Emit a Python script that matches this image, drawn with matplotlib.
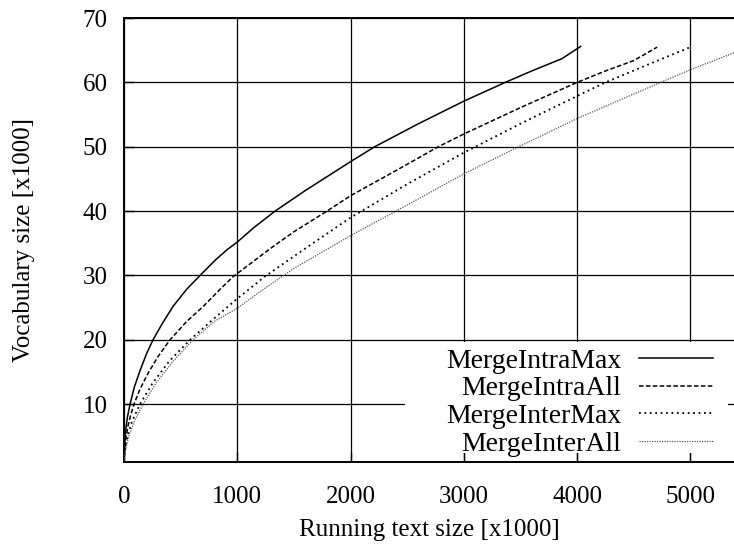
import matplotlib
matplotlib.use("Agg")
import matplotlib.pyplot as plt
from matplotlib.patches import Rectangle

# vocabulary growth curves (x1000)
intra_max_x = [0, 5, 15, 30, 53, 90, 141, 200, 256, 340, 433, 550, 671, 800, 909, 1000, 1150, 1333,
               1600, 2000, 2212, 2600, 3000, 3363, 3600, 3865, 4030]
intra_max_y = [1.2, 3.5, 6.0, 8.0, 10.0, 12.6, 15.2, 17.9, 20.0, 22.6, 25.2, 27.8, 30.0, 32.3, 34.0, 35.2, 37.5, 40.0,
               43.2, 47.7, 50.0, 53.6, 57.1, 60.0, 61.8, 63.7, 65.6]

intra_all_x = [0, 5, 15, 35, 60, 88, 140, 212, 300, 406, 550, 700, 850, 962, 1300, 1500, 1791,
               2000, 2400, 2773, 3000, 3500, 3997, 4250, 4499, 4706]
intra_all_y = [1.2, 2.7, 4.5, 6.6, 8.4, 10.0, 12.3, 14.8, 17.4, 20.0, 22.8, 25.2, 27.9, 29.8, 34.3, 36.8, 40.0,
               42.4, 46.3, 50.0, 52.0, 56.1, 60.0, 61.8, 63.4, 65.5]

inter_max_x = [0, 5, 15, 35, 70, 141, 250, 400, 583, 800, 1000, 1240, 1600, 2000, 2500, 3000, 3500,
               4000, 4248, 4600, 4986]
inter_max_y = [1.2, 2.3, 3.6, 5.3, 7.3, 10.0, 13.2, 16.7, 20.0, 23.4, 26.4, 29.8, 34.2, 39.0, 44.2, 49.1, 53.6,
               57.9, 60.0, 62.6, 65.4]

inter_all_x = [0, 5, 15, 40, 90, 168, 280, 430, 609, 800, 1000, 1218, 1500, 2000, 2390, 3000, 3482,
               4000, 4735, 5000, 5404]
inter_all_y = [1.2, 1.9, 3.0, 4.9, 7.3, 10.0, 13.2, 16.6, 20.0, 22.9, 24.9, 27.7, 31.1, 36.2, 39.9, 45.8, 50.0,
               54.4, 60.0, 62.0, 64.75]

x_ticks = [0, 1000, 2000, 3000, 4000, 5000]
y_ticks = [10, 20, 30, 40, 50, 60, 70]

plt.rcParams['font.family'] = ['Liberation Serif', 'DejaVu Serif']
plt.rcParams['font.size'] = 18

fig = plt.figure(figsize=(7.34, 5.5), dpi=100)
ax = fig.add_axes([0.169, 0.16, 0.831, 0.807])

ax.plot(intra_max_x, intra_max_y, color='black', lw=1.1, ls='-', label='MergeIntraMax', zorder=3)
ax.plot(intra_all_x, intra_all_y, color='black', lw=1.1, ls=(0, (3, 1.5)), label='MergeIntraAll', zorder=3)
ax.plot(inter_max_x, inter_max_y, color='black', lw=1.3, ls=(0, (1, 2)), label='MergeInterMax', zorder=3)
ax.plot(inter_all_x, inter_all_y, color='#555555', lw=0.9, ls=(0, (1, 1)), label='MergeInterAll', zorder=3)

ax.set_xlim(0, 5384)
ax.set_ylim(1, 70)
ax.set_xticks(x_ticks)
ax.set_yticks(y_ticks)
ax.grid(True, color='black', lw=0.9)
ax.tick_params(direction='in', length=7, width=1, colors='black')
ax.tick_params(axis='x', pad=17)
ax.tick_params(axis='y', pad=12)
for side in ['left', 'bottom', 'top']:
    ax.spines[side].set_linewidth(1.4)
ax.spines['right'].set_visible(False)

ax.set_xlabel('Running text size [x1000]', labelpad=8)
ax.set_ylabel('Vocabulary size [x1000]', labelpad=34)

# white key area over the grid, like the gnuplot key
ax.add_patch(Rectangle((0.461, 0.02), 0.529, 0.25, transform=ax.transAxes,
                       facecolor='white', edgecolor='none', zorder=2.6))
leg = ax.legend(loc='lower right', bbox_to_anchor=(0.966, 0.012), markerfirst=False,
                frameon=False, fontsize=20, handlelength=2.66, handletextpad=0.65,
                labelspacing=0.08, borderaxespad=0.0, borderpad=0.0)
leg.set_zorder(4)

fig.savefig('out.png', dpi=100)
